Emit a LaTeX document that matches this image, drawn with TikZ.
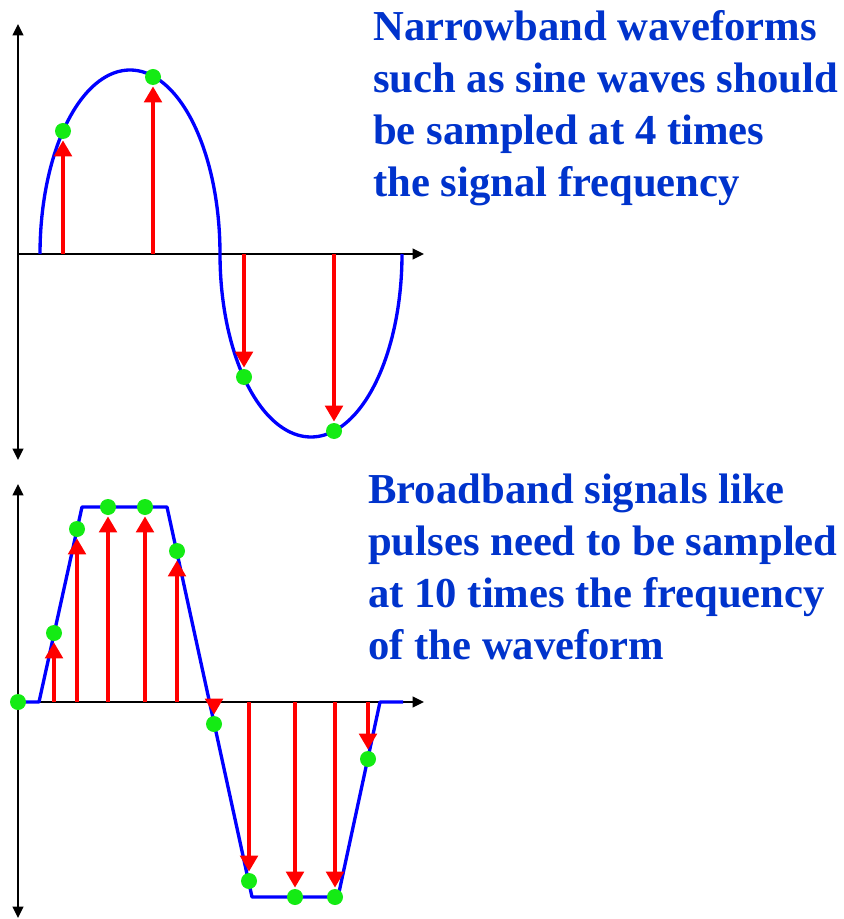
\documentclass[tikz,border=0pt]{standalone}
\usepackage{fontspec}
\setmainfont{Liberation Serif}
\usetikzlibrary{calc, arrows.meta}
\definecolor{capblue}{RGB}{0,51,204}
\definecolor{dotgreen}{RGB}{20,235,20}

\begin{document}
\begin{tikzpicture}[x=0.75pt, y=-0.75pt,
  axis/.style={line width=1.4pt, -{Triangle[length=8.5pt,width=8pt]}},
  yaxis/.style={line width=1.4pt, {Triangle[length=8.5pt,width=8pt]}-{Triangle[length=8.5pt,width=8pt]}},
  wave/.style={blue, line width=2.5pt, line join=round},
  sample/.style={red, line width=3.2pt, -{Triangle[length=12pt,width=13pt]}},
  dot/.style={fill=dotgreen},
  caption/.style={anchor=north west, align=left, inner sep=0pt, text=capblue,
    font=\bfseries\fontsize{32}{39}\selectfont}]
  \useasboundingbox (0,0) rectangle (843,919);

  % sine wave, 4 samples per period
  \coordinate (O1) at (18,254);
  \coordinate (T1) at (18,24);
  \coordinate (B1) at (18,460);
  \coordinate (E1) at (424,254);
  \draw[yaxis] (B1) -- (T1);
  \draw[axis] (O1) -- (E1);
  \draw[wave] plot[domain=180:0, samples=60, smooth] ({130+90*cos(\x)}, {254-184*sin(\x)})
    -- plot[domain=180:360, samples=60, smooth] ({311+91*cos(\x)}, {254-183*sin(\x)});
  \foreach \x/\y in {63/131, 153/77, 244/377, 334/431} {
    \coordinate (s\x) at (\x,254);
    \coordinate (d\x) at (\x,\y);
    \draw[sample] (s\x) -- ($(d\x)!7pt!(s\x)$);
    \fill[dot] (d\x) circle (6pt);
  }
  \node[caption] (narrow) at (373,10) {Narrowband waveforms\\such as sine waves should\\be sampled at 4 times\\the signal frequency};

  % pulse, 10 samples per period
  \coordinate (O2) at (18,702);
  \coordinate (T2) at (18,484);
  \coordinate (B2) at (18,918);
  \coordinate (E2) at (424,702);
  \draw[yaxis] (B2) -- (T2);
  \draw[axis] (O2) -- (E2);
  \draw[wave] (O2) -- (39,702) -- (82,507) -- (167,507) -- (252,897) -- (338,897)
    -- (380,702) -- (403,702);
  \foreach \x/\y in {54/633, 77/529, 108/507, 145/507, 177/551, 214/724, 249/881, 295/897, 335/897, 368/759} {
    \coordinate (p\x) at (\x,702);
    \coordinate (q\x) at (\x,\y);
    \draw[sample] (p\x) -- ($(q\x)!7pt!(p\x)$);
    \fill[dot] (q\x) circle (6pt);
  }
  \fill[dot] (O2) circle (6pt);
  \node[caption] (broad) at (368,474) {Broadband signals like\\pulses need to be sampled\\at 10 times the frequency\\of the waveform};
\end{tikzpicture}
\end{document}
